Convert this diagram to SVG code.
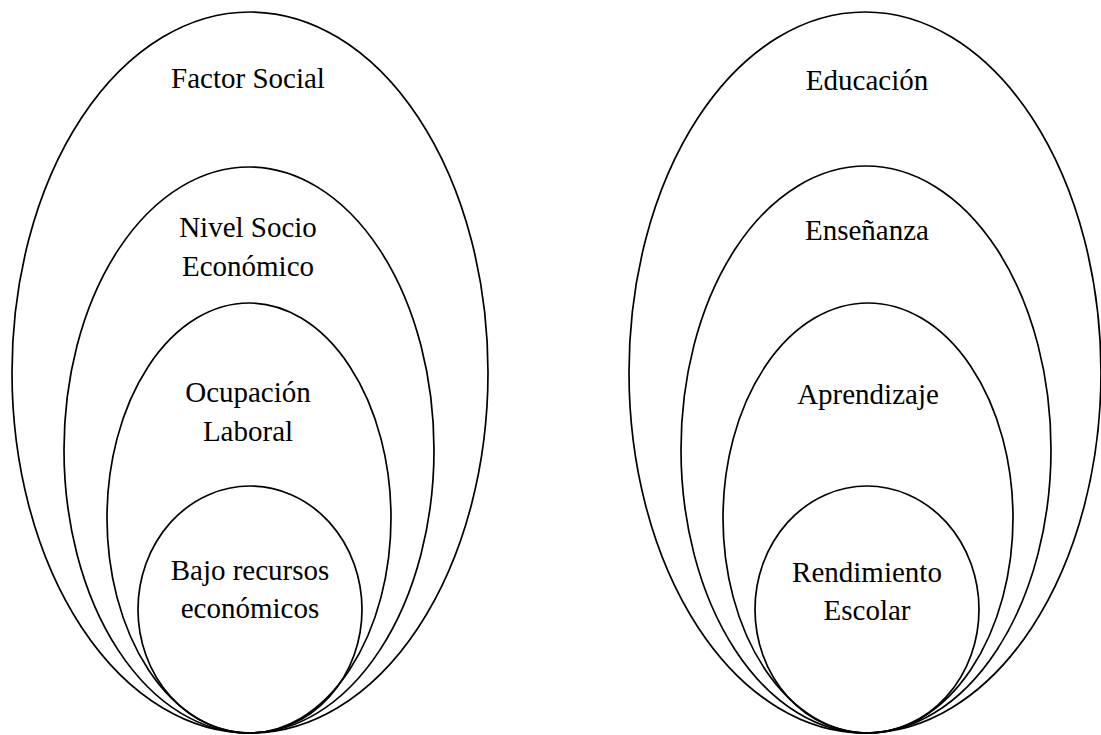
<svg xmlns="http://www.w3.org/2000/svg" width="1101" height="735" viewBox="0 0 1101 735">
<style>
.e{fill:none;stroke:#000;stroke-width:1.7}
.t{font-family:'Liberation Serif','Times New Roman','DejaVu Serif',serif;font-size:29px;fill:#000;text-anchor:middle}
</style>
<rect width="1101" height="735" fill="#fff"/>
<g id="left">
<g id="factor-social"><ellipse class="e" cx="250" cy="372.5" rx="238" ry="360.5"/><text class="t" x="248" y="88">Factor Social</text></g>
<g id="nivel-socio"><ellipse class="e" cx="249" cy="450" rx="185" ry="283"/><text class="t" x="248" y="237">Nivel Socio</text><text class="t" x="248" y="276">Económico</text></g>
<g id="ocupacion"><ellipse class="e" cx="249" cy="518" rx="142" ry="215"/><text class="t" x="248" y="402">Ocupación</text><text class="t" x="248" y="441">Laboral</text></g>
<g id="bajo-recursos"><ellipse class="e" cx="250" cy="609.5" rx="112" ry="123.5"/><text class="t" x="250" y="580">Bajo recursos</text><text class="t" x="250" y="618">económicos</text></g>
</g>
<g id="right">
<g id="educacion"><ellipse class="e" cx="865" cy="372.5" rx="236" ry="360.5"/><text class="t" x="867" y="90">Educación</text></g>
<g id="ensenanza"><ellipse class="e" cx="866" cy="449.5" rx="185" ry="283.5"/><text class="t" x="867" y="240">Enseñanza</text></g>
<g id="aprendizaje"><ellipse class="e" cx="868" cy="518" rx="145" ry="215"/><text class="t" x="868" y="404">Aprendizaje</text></g>
<g id="rendimiento"><ellipse class="e" cx="867" cy="609.5" rx="112" ry="123.5"/><text class="t" x="867" y="582">Rendimiento</text><text class="t" x="867" y="620">Escolar</text></g>
</g>
<g id="connectors"/>
</svg>
